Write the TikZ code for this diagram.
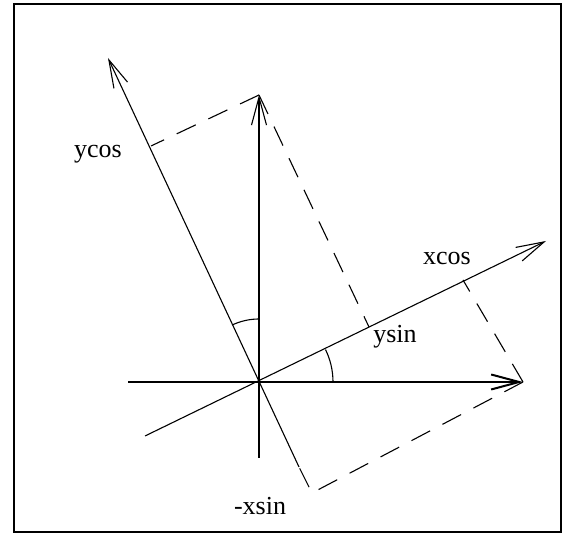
\documentclass[tikz,border=0pt]{standalone}
\usepackage{fontspec}
\setmainfont{Liberation Serif}
\usetikzlibrary{arrows.meta}
\begin{document}
\begin{tikzpicture}[x=1pt,y=1pt,
  axis/.style={line width=1.1pt},
  haxis/.style={line width=2pt},
  vec/.style={-{Straight Barb[length=28pt,width=15pt]}},
  proj/.style={line width=1.1pt,dash pattern=on 21pt off 14pt},
  lbl/.style={inner sep=0pt,anchor=base,font=\fontsize{26}{31}\selectfont},
  angarc/.style={line width=1.1pt}]
\useasboundingbox (0,0) rectangle (568,534);
\draw[line width=2.2pt] (14,2) rectangle (561,530);
% points
\coordinate (O) at (259,152);
\coordinate (Hl) at (128,152);
\coordinate (X) at (523,152);
\coordinate (Vb) at (259,76);
\coordinate (Y) at (259,439);
\coordinate (XRa) at (145,98);
\coordinate (XRb) at (546,293);
\coordinate (YRa) at (299,67);
\coordinate (YRb) at (108,476);
\coordinate (P1) at (151,388);
\coordinate (P2) at (369,207);
\coordinate (P3) at (463,254);
\coordinate (C) at (312,41);
% axes
\draw[haxis,vec] (Hl) -- (X);
\draw[axis,vec] (Vb) -- (Y);
\draw[axis,vec] (XRa) -- (XRb);
\draw[axis,vec] (YRa) -- (YRb);
% projections
\draw[proj] (Y) -- (P1);
\draw[proj] (Y) -- (P2);
\draw[proj] (X) -- (P3);
\draw[proj] (X) -- (C) -- (YRa);
% angle arcs
\draw[angarc] ([shift={(0:74)}]O) arc[start angle=0,end angle=26,radius=74];
\draw[angarc] ([shift={(90:63)}]O) arc[start angle=90,end angle=115,radius=63];
% labels
\node[lbl] (ycos) at (98,376) {ycos};
\node[lbl] (xcos) at (447,269) {xcos};
\node[lbl] (ysin) at (395,191) {ysin};
\node[lbl] (mxsin) at (260,19) {-xsin};
\end{tikzpicture}
\end{document}
